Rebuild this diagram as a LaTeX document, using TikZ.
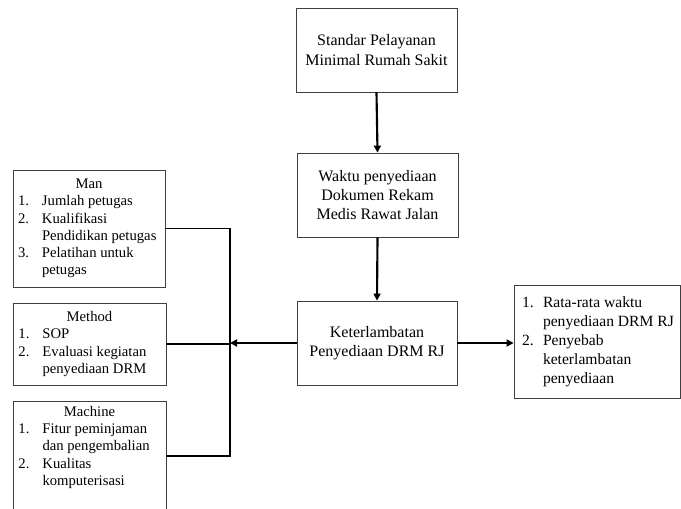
\documentclass[tikz,border=0pt]{standalone}
\usepackage{fontspec}
\setmainfont{Liberation Serif}
\usetikzlibrary{arrows.meta}
\newlength\pxu
\setlength\pxu{0.75pt}
% numbered lines with a hanging indent
\newcommand\numline[2]{\makebox[142\pxu][l]{\makebox[24\pxu][l]{#1}#2}}
\newcommand\numlineR[2]{\makebox[150\pxu][l]{\makebox[21\pxu][l]{#1}#2}}
\begin{document}
\begin{tikzpicture}[x=0.75pt,y=-0.75pt,
  box/.style={draw=black!75,line width=0.6pt,inner sep=0pt,align=center,
    font=\fontsize{12}{14.5}\selectfont,minimum width=161\pxu,minimum height=84\pxu},
  factor/.style={box,font=\fontsize{11}{12.9}\selectfont,minimum width=153\pxu},
  flow/.style={line width=1.6pt,-{Triangle[length=5.25pt,width=5.25pt]}},
  link/.style={line width=0.8pt}]
  \useasboundingbox (0,0) rectangle (681,508);
  \clip (0,0) rectangle (681,508);

  % central chain
  \node[box] (spm) at (376.5,50) {Standar Pelayanan\\Minimal Rumah Sakit};
  \node[box] (waktu) at (377.5,195) {Waktu penyediaan\\Dokumen Rekam\\Medis Rawat Jalan};
  \node[box,minimum width=160\pxu] (telat) at (377,343) {Keterlambatan\\Penyediaan DRM RJ};
  \node[box,font=\fontsize{11.7}{14.3}\selectfont,minimum width=166\pxu,minimum height=113\pxu]
    (hasil) at (597,341.5)
    {\numlineR{1.}{Rata-rata waktu}\\\numlineR{}{penyediaan DRM RJ}\\
     \numlineR{2.}{Penyebab}\\\numlineR{}{keterlambatan}\\\numlineR{}{penyediaan}};

  \draw[flow] (spm.south) -- (waktu.north);
  \draw[flow] (waktu.south) -- (telat.north);
  \draw[flow] (telat.east) -- (telat.east -| hasil.west);

  % factors on the left
  \node[factor,minimum width=152\pxu,minimum height=117\pxu] (man) at (89,228.5)
    {Man\\\numline{1.}{Jumlah petugas}\\\numline{2.}{Kualifikasi}\\
     \numline{}{Pendidikan petugas}\\\numline{3.}{Pelatihan untuk}\\\numline{}{petugas}};
  \node[factor,minimum height=82\pxu] (method) at (89.5,344)
    {Method\\\numline{1.}{SOP}\\\numline{2.}{Evaluasi kegiatan}\\\numline{}{penyediaan DRM}};
  \node[factor,minimum height=0pt,anchor=north,inner ysep=5\pxu,text depth=45\pxu]
    (machine) at (89.5,401)
    {Machine\\\numline{1.}{Fitur peminjaman}\\\numline{}{dan pengembalian}\\
     \numline{2.}{Kualitas}\\\numline{}{komputerisasi}};

  \coordinate (bus) at (230,343);
  \coordinate (busend) at (230,456);
  \draw[link] (man.east) -- (man.east -| bus) -- (busend) -- (busend -| machine.east);
  \draw[link] (method.east) -- (method.east -| bus);
  \draw[flow] (telat.west) -- (telat.west -| bus);
\end{tikzpicture}
\end{document}
